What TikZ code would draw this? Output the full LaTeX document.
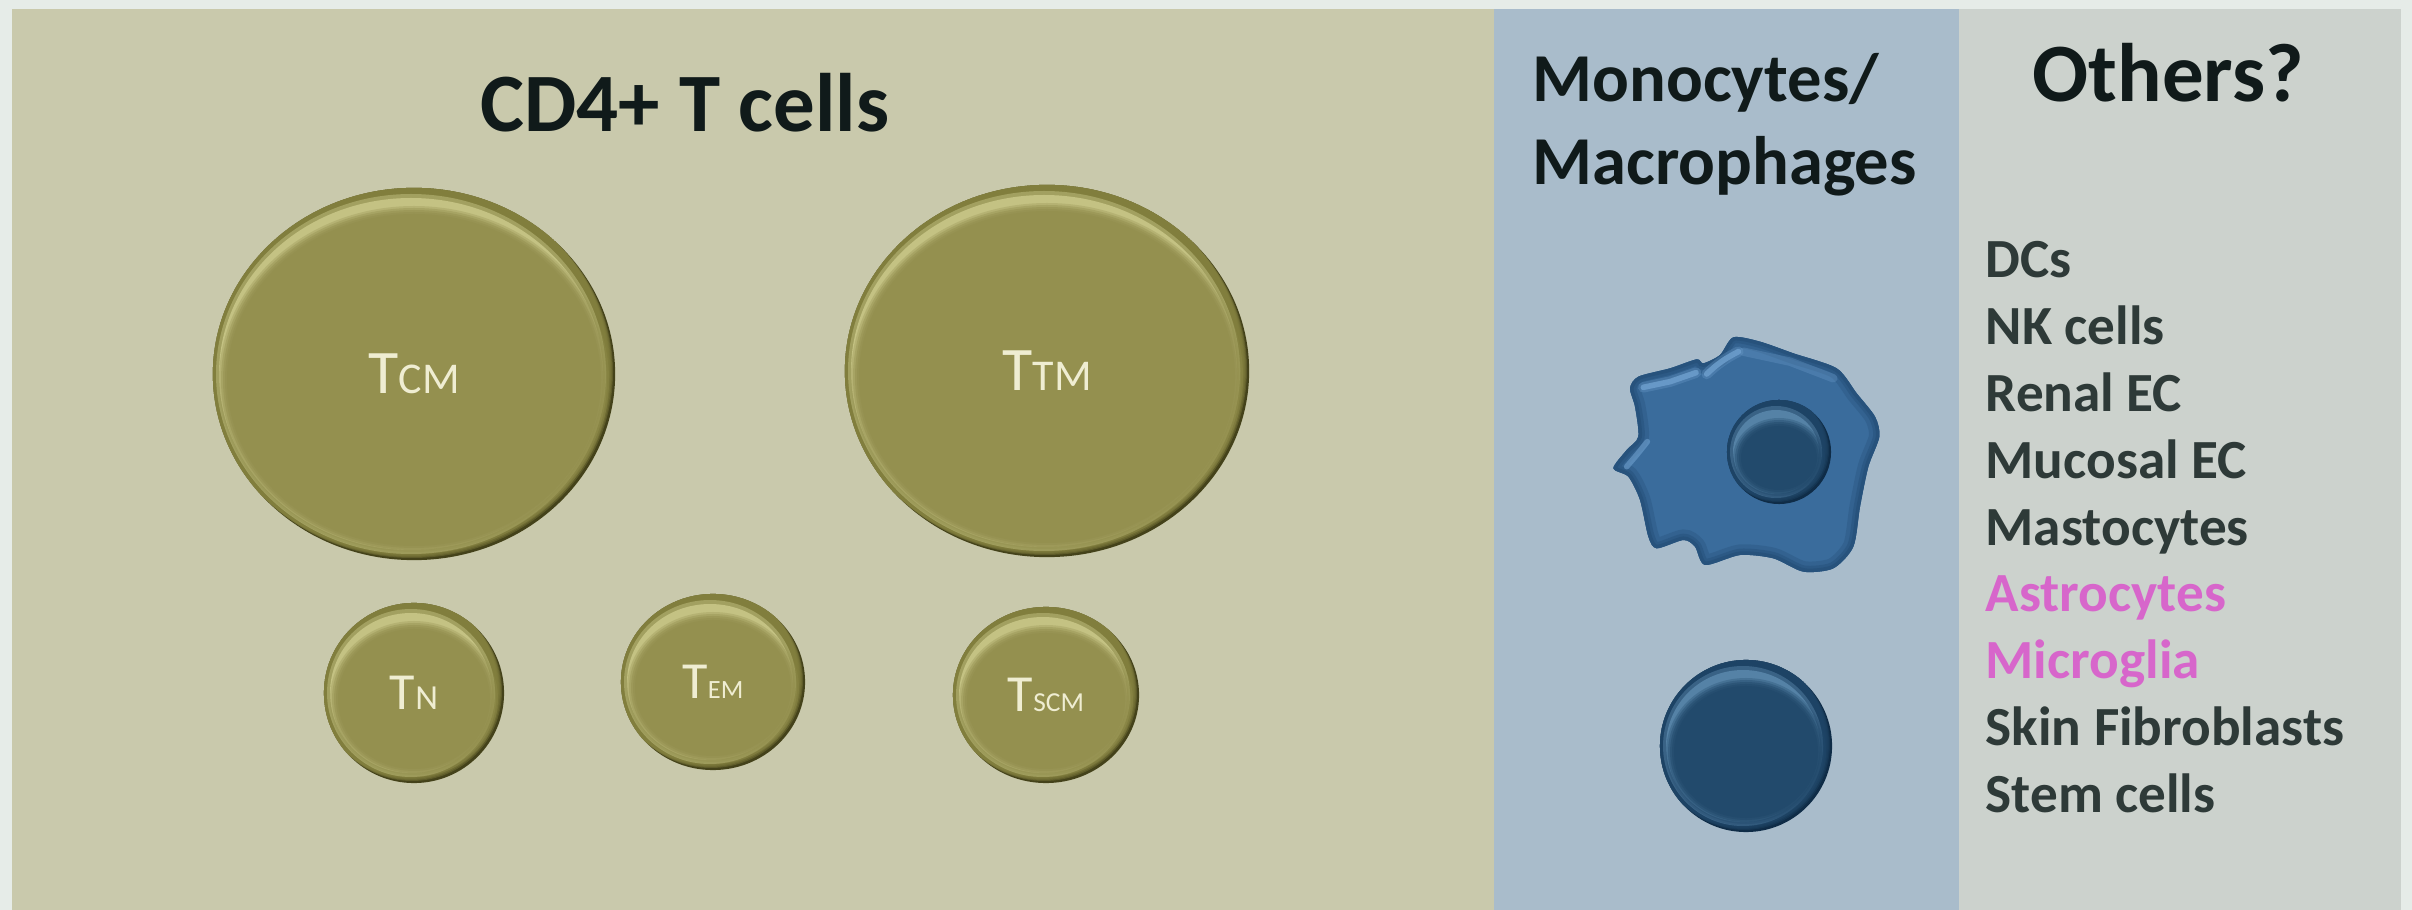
\documentclass[tikz,border=0pt]{standalone}
\usepackage{fontspec}
\setmainfont{Carlito}
\usetikzlibrary{positioning,shapes.geometric}
\definecolor{pagebg}{HTML}{E6ECE8}
\definecolor{tcellbg}{HTML}{C9C9AC}
\definecolor{monobg}{HTML}{A9BCCB}
\definecolor{otherbg}{HTML}{CCD2CD}
\definecolor{oliverim}{HTML}{44421A}
\definecolor{olivemid}{HTML}{858240}
\definecolor{olivelight}{HTML}{C4C283}
\definecolor{olivebody}{HTML}{94904F}
\definecolor{bluerim}{HTML}{0F2C47}
\definecolor{bluemid}{HTML}{1F4567}
\definecolor{bluelight}{HTML}{5582A6}
\definecolor{bluebody}{HTML}{224A6C}
\definecolor{macrobody}{HTML}{3A6C9C}
\definecolor{macroedge}{HTML}{27527C}
\definecolor{macrolight}{HTML}{6FA0CE}
\definecolor{celltext}{HTML}{EFEDD2}
\definecolor{headtext}{HTML}{101A1A}
\definecolor{listtext}{HTML}{2E3A38}
\definecolor{listpink}{HTML}{D766CB}
\newcommand{\tlabel}[3]{{\fontsize{#1}{#1}\selectfont T}{\fontsize{#2}{#2}\selectfont #3}}
\tikzset{
  panel/.style={anchor=north west,inner sep=0pt,outer sep=0pt},
  head/.style={anchor=base west,inner sep=0pt,text=headtext,font=\fontsize{19.5}{23}\selectfont\bfseries},
  bighead/.style={head,font=\fontsize{23.6}{28}\selectfont\bfseries},
  entry/.style={anchor=base west,inner sep=0pt,text=listtext,font=\fontsize{15.7}{18}\selectfont\bfseries},
  cell/.style n args={3}{ellipse,inner sep=0pt,outer sep=0pt,text=celltext,fill=#3rim,
    minimum width=#1*0.02cm,minimum height=#2*0.02cm,
    path picture={
      % dark rim fades out towards the upper left
      \foreach \s in {2,3,4,5,6,7}
        \fill[#3mid,opacity=.4] (path picture bounding box.center) ++(-\s,-\s) ellipse [x radius=#1,y radius=#2];
      \fill[#3light,opacity=.5] (path picture bounding box.center) ++(-3,0) ellipse [x radius=#1-6,y radius=#2-6];
      \fill[#3light] (path picture bounding box.center) ++(-3,0) ellipse [x radius=#1-9,y radius=#2-10];
      \foreach \d/\o in {8/.3,6/.4,4/.5,2/.6,0/1}
        \fill[#3body,opacity=\o] (path picture bounding box.center) ++(0,6) ellipse [x radius=#1-14+\d,y radius=#2-20+\d];
    }},
}

\begin{document}
\begin{tikzpicture}[x=0.01cm,y=-0.01cm]
\useasboundingbox (0,0) rectangle (2412,910);
\fill[pagebg] (0,0) rectangle (2412,910);

% three background panels
\node[panel,fill=tcellbg,minimum width=14.81cm,minimum height=9.01cm] (tpanel) at (12,9) {};
\node[panel,fill=monobg,minimum width=4.65cm,minimum height=9.01cm] (mpanel) at (tpanel.north east) {};
\node[panel,fill=otherbg,minimum width=4.42cm,minimum height=9.01cm] (opanel) at (mpanel.north east) {};

\node[bighead] (ttitle) at (480,132) {CD4+ T cells};
\node[head] (mono) at (1532,102) {Monocytes/};
\node[head] (macro) at (1532,185) {Macrophages};
\node[bighead] (others) at (2032,102) {Others?};

% T cell subsets
\node[cell={201}{186}{olive}] (tcm) at (414,374) {\tlabel{17.6}{12.5}{CM}};
\node[cell={202}{186}{olive}] (ttm) at (1047,371) {\tlabel{17.6}{12.5}{TM}};
\node[cell={90}{90}{olive}] (tn) at (414,693) {\tlabel{14.8}{10}{N}};
\node[cell={92}{88}{olive}] (tem) at (713,682) {\tlabel{14.8}{7.5}{EM}};
\node[cell={93}{88}{olive}] (tscm) at (1046,695) {\tlabel{14.8}{7.8}{SCM}};

% macrophage outline, on a grid three times finer
\begin{scope}[shift={(1560,300)},x=0.01cm/3,y=-0.01cm/3]
\def\macropath{plot[smooth cycle,tension=.45] coordinates {
  (520,112) (600,125) (700,160) (830,205) (890,280) (945,350) (958,410)
  (925,500) (900,620) (880,740) (820,805) (730,815) (640,775) (540,765)
  (435,795) (405,740) (370,720) (290,745) (265,710) (240,600) (205,530)
  (160,505) (200,450) (235,410) (225,320) (210,265) (235,230) (330,205)
  (410,178) (430,190) (480,165)}}
\fill[macrobody] \macropath;
\begin{scope}
\clip \macropath;
\draw[macroedge,line width=6pt,opacity=.35] \macropath;
\draw[macroedge,line width=3.6pt,opacity=.5] \macropath;
\draw[macroedge,line width=2pt] \macropath;
\end{scope}
\draw[macrolight,line width=3pt,line cap=round,opacity=.3] (250,262) -- (330,245) -- (408,218);
\draw[macrolight,line width=1.6pt,line cap=round,opacity=.8] (250,262) -- (330,245) -- (408,218);
\draw[macrolight,line width=3pt,line cap=round,opacity=.3] (440,222) to[bend left=8] (535,155);
\draw[macrolight,line width=1.6pt,line cap=round,opacity=.8] (440,222) to[bend left=8] (535,155);
\draw[macrolight,line width=2.4pt,line cap=round,opacity=.3] (550,155) -- (690,185) -- (820,235);
\draw[macrolight,line width=1.6pt,line cap=round,opacity=.6] (262,425) -- (230,465) -- (200,500);
\end{scope}

% nuclei
\node[cell={52}{52}{blue}] (nucleus) at (1779,452) {};
\node[cell={86}{86}{blue}] (monocyte) at (1746,746) {};

% list of other cell types
\foreach \name/\txt/\col [count=\i from 0] in {dcs/DCs/listtext,nk/NK cells/listtext,renal/Renal EC/listtext,
    mucosal/Mucosal EC/listtext,masto/Mastocytes/listtext,astro/Astrocytes/listpink,
    micro/Microglia/listpink,skin/Skin Fibroblasts/listtext,stem/Stem cells/listtext}
  \node[entry,text=\col] (\name) at (1985,278+\i*66.8) {\txt};
\end{tikzpicture}
\end{document}
